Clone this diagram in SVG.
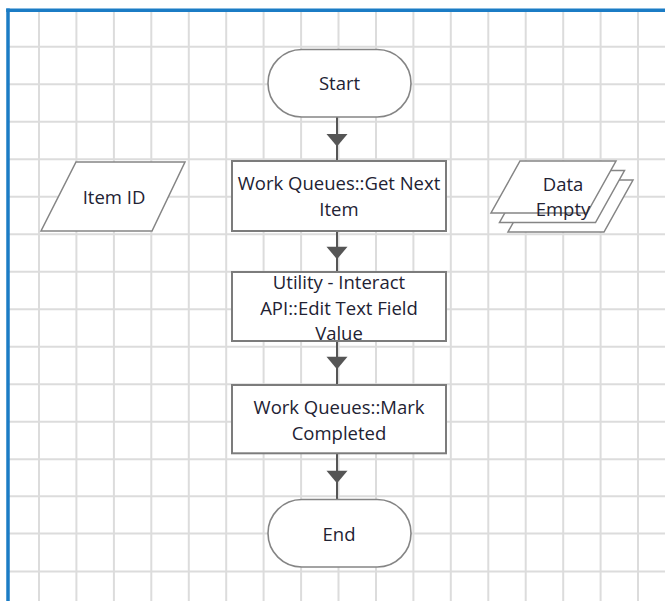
<svg xmlns="http://www.w3.org/2000/svg" width="665" height="601" viewBox="0 0 665 601">
<defs>
<style>
.grid line{stroke:#dcdcdc;stroke-width:2}
.term{fill:#ffffff;stroke:#858585;stroke-width:1.6}
.proc{fill:#ffffff;stroke:#7c7c7c;stroke-width:2}
.data{fill:#ffffff;stroke:#858585;stroke-width:1.5}
.lbl{font-family:"Open Sans","Noto Sans",sans-serif;font-size:18.5px;fill:#222233;text-anchor:middle}
.conn{fill:none;stroke:#555555;stroke-width:2}
.border{stroke:#1b7cc5;stroke-width:3.5}
</style>
<marker id="ah" markerUnits="userSpaceOnUse" markerWidth="14" markerHeight="22" refX="6" refY="10.5" orient="auto" overflow="visible">
<path d="M0,0 L12.5,10.5 L0,21 z" fill="#555555"/>
</marker>
</defs>
<rect x="0" y="0" width="665" height="601" fill="#ffffff"/>
<g class="grid">
<line x1="39" y1="10" x2="39" y2="601"/>
<line x1="76.4" y1="10" x2="76.4" y2="601"/>
<line x1="113.9" y1="10" x2="113.9" y2="601"/>
<line x1="151.3" y1="10" x2="151.3" y2="601"/>
<line x1="188.8" y1="10" x2="188.8" y2="601"/>
<line x1="226.2" y1="10" x2="226.2" y2="601"/>
<line x1="263.6" y1="10" x2="263.6" y2="601"/>
<line x1="301.1" y1="10" x2="301.1" y2="601"/>
<line x1="338.5" y1="10" x2="338.5" y2="601"/>
<line x1="376" y1="10" x2="376" y2="601"/>
<line x1="413.4" y1="10" x2="413.4" y2="601"/>
<line x1="450.8" y1="10" x2="450.8" y2="601"/>
<line x1="488.3" y1="10" x2="488.3" y2="601"/>
<line x1="525.7" y1="10" x2="525.7" y2="601"/>
<line x1="563.2" y1="10" x2="563.2" y2="601"/>
<line x1="600.6" y1="10" x2="600.6" y2="601"/>
<line x1="638" y1="10" x2="638" y2="601"/>
<line x1="8" y1="46.7" x2="665" y2="46.7"/>
<line x1="8" y1="84.2" x2="665" y2="84.2"/>
<line x1="8" y1="121.7" x2="665" y2="121.7"/>
<line x1="8" y1="159.2" x2="665" y2="159.2"/>
<line x1="8" y1="196.7" x2="665" y2="196.7"/>
<line x1="8" y1="234.2" x2="665" y2="234.2"/>
<line x1="8" y1="271.7" x2="665" y2="271.7"/>
<line x1="8" y1="309.2" x2="665" y2="309.2"/>
<line x1="8" y1="346.7" x2="665" y2="346.7"/>
<line x1="8" y1="384.2" x2="665" y2="384.2"/>
<line x1="8" y1="421.7" x2="665" y2="421.7"/>
<line x1="8" y1="459.2" x2="665" y2="459.2"/>
<line x1="8" y1="496.2" x2="665" y2="496.2"/>
<line x1="8" y1="533.5" x2="665" y2="533.5"/>
<line x1="8" y1="571.5" x2="665" y2="571.5"/>
</g>
<g id="frame">
<line class="border" x1="6.2" y1="10.3" x2="665" y2="10.3"/>
<line class="border" x1="8" y1="8.5" x2="8" y2="601"/>
</g>
<g id="connectors">
<path class="conn" d="M337,117 V140 V161" marker-mid="url(#ah)"/>
<path class="conn" d="M337,231 V252.7 V272" marker-mid="url(#ah)"/>
<path class="conn" d="M337,341 V362.7 V385" marker-mid="url(#ah)"/>
<path class="conn" d="M337,453 V476.7 V499" marker-mid="url(#ah)"/>
</g>
<g id="start">
<rect class="term" x="268" y="49.5" width="143" height="67.5" rx="33.75" ry="33.75"/>
<text class="lbl" x="339.5" y="90">Start</text>
</g>
<g id="item-id">
<polygon class="data" points="76,162 185,162 152,231 41,231"/>
<text class="lbl" x="114" y="203.5">Item ID</text>
</g>
<g id="get-next-item">
<rect class="proc" x="232" y="161" width="214" height="70"/>
<text class="lbl" x="339" y="189.8">Work Queues::Get Next</text>
<text class="lbl" x="339" y="215.8">Item</text>
</g>
<g id="data-empty">
<polygon class="data" points="537,180 633,180 604,232 508,232"/>
<polygon class="data" points="528.5,170.5 624.5,170.5 595.5,222.5 499.5,222.5"/>
<polygon class="data" points="520,161 616,161 587,213 491,213"/>
<text class="lbl" x="563" y="190.5">Data</text>
<text class="lbl" x="563" y="216">Empty</text>
</g>
<g id="edit-text-field">
<rect class="proc" x="232" y="272" width="214" height="69"/>
<text class="lbl" x="339" y="288.5">Utility - Interact</text>
<text class="lbl" x="339" y="314.5">API::Edit Text Field</text>
<text class="lbl" x="339" y="340.3">Value</text>
</g>
<g id="mark-completed">
<rect class="proc" x="232" y="385" width="214" height="68.3"/>
<text class="lbl" x="339" y="413.5">Work Queues::Mark</text>
<text class="lbl" x="339" y="440">Completed</text>
</g>
<g id="end">
<rect class="term" x="268" y="499.5" width="143" height="67.5" rx="33.75" ry="33.75"/>
<text class="lbl" x="339" y="540.5">End</text>
</g>
</svg>
